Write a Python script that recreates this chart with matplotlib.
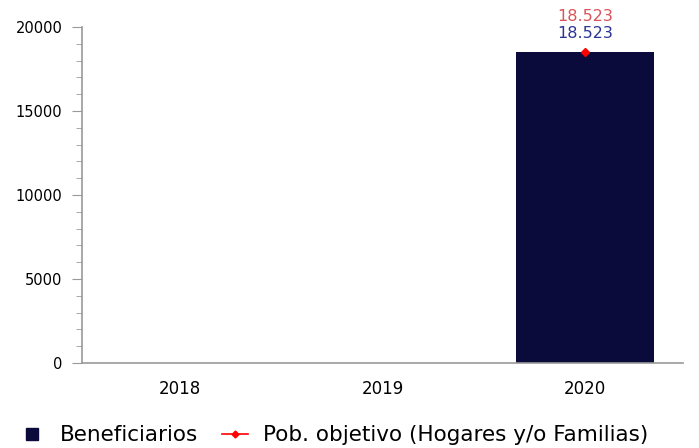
import numpy as np
import matplotlib.pyplot as plt
from matplotlib.ticker import MultipleLocator
from matplotlib.lines import Line2D

years = ['2018', '2019', '2020']
beneficiarios = [np.nan, np.nan, 18523]
poblacion = [np.nan, np.nan, 18523]
lbl_benef = ['', '', '18.523']
lbl_pob = ['', '', '18.523']

bar_color = '#0b0b3b'

fig = plt.figure(figsize=(6.99, 4.48), dpi=100)
ax = fig.add_axes([82 / 699, 85 / 448, 601 / 699, 336 / 448])

x = np.arange(len(years))
ax.bar(x, beneficiarios, width=0.68, color=bar_color)
ax.plot(x, poblacion, color='red', marker='D', markersize=4.5, lw=1)

for i in range(len(years)):
    if lbl_benef[i]:
        ax.text(x[i], beneficiarios[i] + 820, lbl_benef[i], ha='center', va='baseline',
                color='#2b3593', fontsize=11.5)
    if lbl_pob[i]:
        ax.text(x[i], poblacion[i] + 1860, lbl_pob[i], ha='center', va='baseline',
                color='#d9535a', fontsize=11.5)

ax.set_xlim(-0.485, 2.485)
ax.set_ylim(0, 20000)
ax.set_xticks(x)
ax.set_xticklabels(years)
ax.yaxis.set_major_locator(MultipleLocator(5000))
ax.yaxis.set_minor_locator(MultipleLocator(1000))

for s in ['top', 'right']:
    ax.spines[s].set_visible(False)
for s in ['left', 'bottom']:
    ax.spines[s].set_color('#999999')
    ax.spines[s].set_linewidth(1.2)
ax.tick_params(axis='y', which='major', color='#999999', labelsize=10.5, length=7, pad=7)
ax.tick_params(axis='y', which='minor', color='#999999', length=4)
ax.tick_params(axis='x', length=0, labelsize=12, pad=12)

handles = [
    Line2D([], [], ls='none', marker='s', markersize=9, color=bar_color),
    Line2D([], [], color='red', lw=1.2, marker='D', markersize=3.5),
]
labels = ['Beneficiarios', 'Pob. objetivo (Hogares y/o Familias)']
fig.legend(handles, labels, loc='center left', bbox_to_anchor=(0.015, 0.028), ncol=2,
           frameon=False, fontsize=15.5, handlelength=1.2, columnspacing=1.1,
           handletextpad=0.7, borderaxespad=0)

fig.savefig('out.png')
